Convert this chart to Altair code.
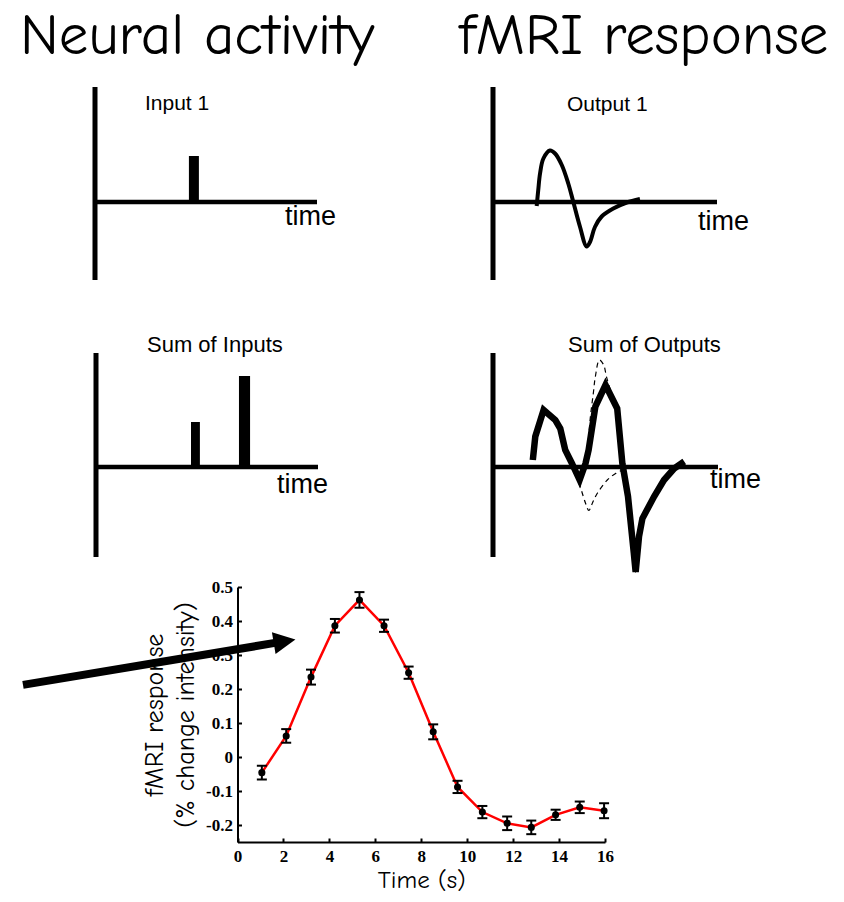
import altair as alt
import pandas as pd

OFF = 8  # page margin

# ---------------- text ----------------
HEADERS = ["Neural activity", "fMRI response"]
PANEL_TITLES = ["Input 1", "Output 1", "Sum of Inputs", "Sum of Outputs"]
AXIS_WORD = "time"
X_TITLE = "Time (s)"
Y_TITLE = ["fMRI response", "(% change intensity)"]

# ---------------- schematic data (panel units) ----------------
INPUT1_ON = [4.23]
INPUT1_OFF = [4.68]
INPUT1_AMP = [0.92]

SUM_IN_ON = [4.28, 6.44]
SUM_IN_OFF = [4.68, 6.94]
SUM_IN_AMP = [0.90, 1.82]

OUT1_T = [1.95, 2.02, 2.10, 2.25, 2.54, 2.77, 3.07, 3.36, 3.58, 3.88, 4.18, 4.33, 4.55, 4.85, 5.37, 5.97, 6.56]
OUT1_V = [-0.08, 0.24, 0.57, 0.87, 1.03, 0.97, 0.74, 0.37, 0.01, -0.49, -0.89, -0.80, -0.50, -0.29, -0.13, -0.01, 0.06]

SUM_OUT_T = [1.77, 1.88, 2.25, 2.77, 2.99, 3.21, 3.51, 3.85, 4.11, 4.25, 4.55, 5.00, 5.52, 5.75, 6.00, 6.26, 6.34, 6.49, 6.64, 7.16, 7.60, 8.05, 8.50]
SUM_OUT_V = [0.14, 0.61, 1.14, 0.94, 0.77, 0.34, 0.07, -0.26, 0.07, 0.34, 1.21, 1.64, 1.17, 0.07, -0.59, -1.73, -2.10, -1.39, -1.03, -0.59, -0.26, -0.03, 0.11]

DASH1_T = [1.77, 1.88, 2.25, 2.77, 2.99, 3.21, 3.53, 3.88, 4.11, 4.26, 4.42, 4.63, 5.08, 5.45, 5.89, 6.34]
DASH1_V = [0.14, 0.61, 1.14, 0.94, 0.77, 0.34, 0.02, -0.40, -0.72, -0.87, -0.72, -0.53, -0.26, -0.13, -0.04, 0.00]

DASH2_T = [4.11, 4.20, 4.33, 4.46, 4.55, 4.73, 4.92, 5.04, 5.22, 5.52, 5.75, 6.00, 6.26, 6.34, 6.49, 6.64, 7.16, 7.60, 8.05, 8.50]
DASH2_V = [0.02, 0.34, 1.01, 1.48, 1.81, 2.14, 2.04, 1.81, 1.54, 1.17, 0.07, -0.59, -1.73, -2.10, -1.39, -1.03, -0.59, -0.26, -0.03, 0.11]

# ---------------- measured fMRI data ----------------
TIME = [1.06, 2.12, 3.20, 4.24, 5.31, 6.38, 7.45, 8.52, 9.58, 10.66, 11.74, 12.79, 13.85, 14.90, 15.96]
RESP = [-0.046, 0.062, 0.235, 0.386, 0.462, 0.386, 0.248, 0.074, -0.088, -0.162, -0.195, -0.207, -0.170, -0.148, -0.158]
ERR = [0.020, 0.020, 0.022, 0.020, 0.023, 0.018, 0.018, 0.022, 0.018, 0.018, 0.020, 0.020, 0.015, 0.017, 0.022]
X_TICKS = [0, 2, 4, 6, 8, 10, 12, 14, 16]
Y_TICKS = [-0.2, -0.1, 0, 0.1, 0.2, 0.3, 0.4, 0.5]

# arrow (in data-plot units)
ARROW_X = [-9.34, 1.76]
ARROW_Y = [0.212, 0.337]
ARROW_HEAD = [2.05, 0.340]

# ---------------- layout (image pixels) ----------------
W, H = 828, 886
UNIT = 50
PANELS = {
    "TL": dict(x0=95, x1=317, zero=202, top=87, bottom=280),
    "TR": dict(x0=493, x1=717, zero=202, top=87, bottom=280),
    "BL": dict(x0=96, x1=318, zero=467, top=353, bottom=557),
    "BR": dict(x0=493, x1=718, zero=467, top=353, bottom=557),
}
PLOT = dict(x0=237.5, x1=605, ybot=842, ytop=587)

DUMMY = pd.DataFrame({"k": [0]})


def psx(p):
    return alt.Scale(domain=[0, 10], range=[p["x0"] - OFF, p["x1"] - OFF], nice=False, zero=False)


def psy(p):
    return alt.Scale(domain=[-1, 1], range=[p["zero"] + UNIT - OFF, p["zero"] - UNIT - OFF], nice=False, zero=False)


def frame(p):
    hline = alt.Chart(pd.DataFrame({"a": [0], "b": [10], "v": [0]})).mark_rule(
        color="black", strokeWidth=4.5, strokeCap="butt"
    ).encode(
        x=alt.X("a:Q", scale=psx(p), axis=None),
        x2="b:Q",
        y=alt.Y("v:Q", scale=psy(p), axis=None),
    )
    vline = alt.Chart(DUMMY).mark_rule(color="black", strokeWidth=5, strokeCap="butt").encode(
        x=alt.value(p["x0"] - OFF), y=alt.value(p["top"] - OFF), y2=alt.value(p["bottom"] - OFF)
    )
    return [vline, hline]


def bars(p, on, off, amp):
    df = pd.DataFrame({"on": on, "off": off, "amp": amp, "base": [0] * len(on)})
    return alt.Chart(df).mark_rect(color="black").encode(
        x=alt.X("on:Q", scale=psx(p), axis=None),
        x2="off:Q",
        y=alt.Y("amp:Q", scale=psy(p), axis=None),
        y2="base:Q",
    )


def curve(p, t, v, **mk):
    df = pd.DataFrame({"t": t, "v": v, "o": list(range(len(t)))})
    return alt.Chart(df).mark_line(color="black", **mk).encode(
        x=alt.X("t:Q", scale=psx(p), axis=None),
        y=alt.Y("v:Q", scale=psy(p), axis=None),
        order="o:Q",
    )


def label(txt, x, y, size, font, baseline="alphabetic", align="left"):
    return alt.Chart(DUMMY).mark_text(
        align=align, baseline=baseline, font=font, fontSize=size, color="black"
    ).encode(x=alt.value(x - OFF), y=alt.value(y - OFF), text=alt.value(txt))


SANS = "Liberation Sans"
COMIC = "Comic Sans MS, Comic Neue, DejaVu Sans"

layers = []
for key in ["TL", "TR", "BL", "BR"]:
    layers += frame(PANELS[key])

layers.append(bars(PANELS["TL"], INPUT1_ON, INPUT1_OFF, INPUT1_AMP))
layers.append(bars(PANELS["BL"], SUM_IN_ON, SUM_IN_OFF, SUM_IN_AMP))
layers.append(curve(PANELS["TR"], OUT1_T, OUT1_V, strokeWidth=4, interpolate="catmull-rom", strokeCap="butt"))
layers.append(curve(PANELS["BR"], DASH1_T, DASH1_V, strokeWidth=1.2, strokeDash=[5, 4], interpolate="catmull-rom"))
layers.append(curve(PANELS["BR"], DASH2_T, DASH2_V, strokeWidth=1.2, strokeDash=[5, 4], interpolate="catmull-rom"))
layers.append(curve(PANELS["BR"], SUM_OUT_T, SUM_OUT_V, strokeWidth=6.5, strokeJoin="miter", strokeMiterLimit=10, strokeCap="butt"))

# texts
layers.append(label(HEADERS[0], 20, 54, 59, COMIC))
layers.append(label(HEADERS[1], 459, 54, 59, COMIC))
layers.append(label(PANEL_TITLES[0], 145, 110, 21, SANS))
layers.append(label(PANEL_TITLES[1], 567, 111, 21, SANS))
layers.append(label(PANEL_TITLES[2], 147, 352, 22, SANS))
layers.append(label(PANEL_TITLES[3], 568, 352, 22, SANS))
for (x, y) in [(285, 225), (698, 230), (277, 493), (710, 488)]:
    layers.append(label(AXIS_WORD, x, y, 27, SANS))

# ---------------- data plot ----------------
DX = alt.Scale(domain=[0, 16], range=[PLOT["x0"] - OFF, PLOT["x1"] - OFF], nice=False, zero=False)
DY = alt.Scale(domain=[-0.25, 0.5], range=[PLOT["ybot"] - OFF, PLOT["ytop"] - OFF], nice=False, zero=False)

x_axis_y = PLOT["ybot"] - OFF
y_axis_x = PLOT["x0"] - OFF
LAB = dict(labelFont="Liberation Serif", labelFontWeight="bold", labelFontSize=17, labelColor="black",
           labelFlush=False, labelOverlap=False, labelExpr="'' + datum.value")

AX_X = alt.Axis(values=X_TICKS, orient="bottom", offset=x_axis_y - H, domain=True, domainColor="black",
                domainWidth=2, ticks=False, tickSize=0, grid=False, labelPadding=6,
                title=X_TITLE, titleFont=COMIC, titleFontSize=25, titleFontWeight="normal", titleColor="black",
                titleX=(PLOT["x0"] + PLOT["x1"]) / 2 - OFF, titleY=45, titleBaseline="alphabetic",
                titleAlign="center", **LAB)
AX_Y = alt.Axis(values=Y_TICKS, orient="left", offset=-y_axis_x, domain=True, domainColor="black",
                domainWidth=2, ticks=False, tickSize=0, grid=False, labelPadding=5,
                title=Y_TITLE, titleFont=COMIC, titleFontSize=26, titleFontWeight="normal", titleColor="black",
                titleAngle=270, titleX=-75, titleY=(PLOT["ybot"] + PLOT["ytop"]) / 2 - OFF,
                titleBaseline="alphabetic", titleAlign="center", titleLineHeight=31, **LAB)
TK_X = alt.Axis(values=X_TICKS, orient="bottom", offset=x_axis_y - H - 4, domain=False, labels=False,
                ticks=True, tickSize=4, tickWidth=2, tickColor="black", grid=False, title=None)
TK_Y = alt.Axis(values=Y_TICKS, orient="left", offset=-y_axis_x - 4, domain=False, labels=False,
                ticks=True, tickSize=4, tickWidth=2, tickColor="black", grid=False, title=None)

ddf = pd.DataFrame({"time": TIME, "resp": RESP, "err": ERR})
ddf["lo"] = ddf["resp"] - ddf["err"]
ddf["hi"] = ddf["resp"] + ddf["err"]

line = alt.Chart(ddf).mark_line(color="#ff0000", strokeWidth=2.5).encode(
    x=alt.X("time:Q", scale=DX, axis=AX_X), y=alt.Y("resp:Q", scale=DY, axis=AX_Y)
)
ebar = alt.Chart(ddf).mark_rule(color="black", strokeWidth=2).encode(
    x=alt.X("time:Q", scale=DX, axis=None), y=alt.Y("lo:Q", scale=DY, axis=None), y2="hi:Q"
)
cap_lo = alt.Chart(ddf).mark_tick(color="black", orient="horizontal", size=10, thickness=2, opacity=1).encode(
    x=alt.X("time:Q", scale=DX, axis=None), y=alt.Y("lo:Q", scale=DY, axis=None)
)
cap_hi = alt.Chart(ddf).mark_tick(color="black", orient="horizontal", size=10, thickness=2, opacity=1).encode(
    x=alt.X("time:Q", scale=DX, axis=None), y=alt.Y("hi:Q", scale=DY, axis=None)
)
pts = alt.Chart(ddf).mark_circle(color="black", size=50, opacity=1).encode(
    x=alt.X("time:Q", scale=DX, axis=TK_X), y=alt.Y("resp:Q", scale=DY, axis=TK_Y)
)
layers += [line, ebar, cap_lo, cap_hi, pts]

adf = pd.DataFrame({"x0": [ARROW_X[0]], "x1": [ARROW_X[1]], "y0": [ARROW_Y[0]], "y1": [ARROW_Y[1]]})
arrow_line = alt.Chart(adf).mark_rule(color="black", strokeWidth=8, strokeCap="butt").encode(
    x=alt.X("x0:Q", scale=DX, axis=None), x2="x1:Q", y=alt.Y("y0:Q", scale=DY, axis=None), y2="y1:Q"
)
hdf = pd.DataFrame({"hx": [ARROW_HEAD[0]], "hy": [ARROW_HEAD[1]]})
arrow_head = alt.Chart(hdf).mark_point(
    shape="M -1 -1 L 1 0 L -1 1 Z", size=484, filled=True, color="black", opacity=1, angle=350.5, strokeWidth=0
).encode(x=alt.X("hx:Q", scale=DX, axis=None), y=alt.Y("hy:Q", scale=DY, axis=None))
layers += [arrow_line, arrow_head]

chart = alt.layer(*layers).resolve_scale(x="independent", y="independent").properties(
    width=W, height=H, padding=0, autosize=alt.AutoSizeParams(type="none"), background="white"
).configure_view(stroke=None)

chart.save("out.html", embed_options={"renderer": "svg", "actions": False})
